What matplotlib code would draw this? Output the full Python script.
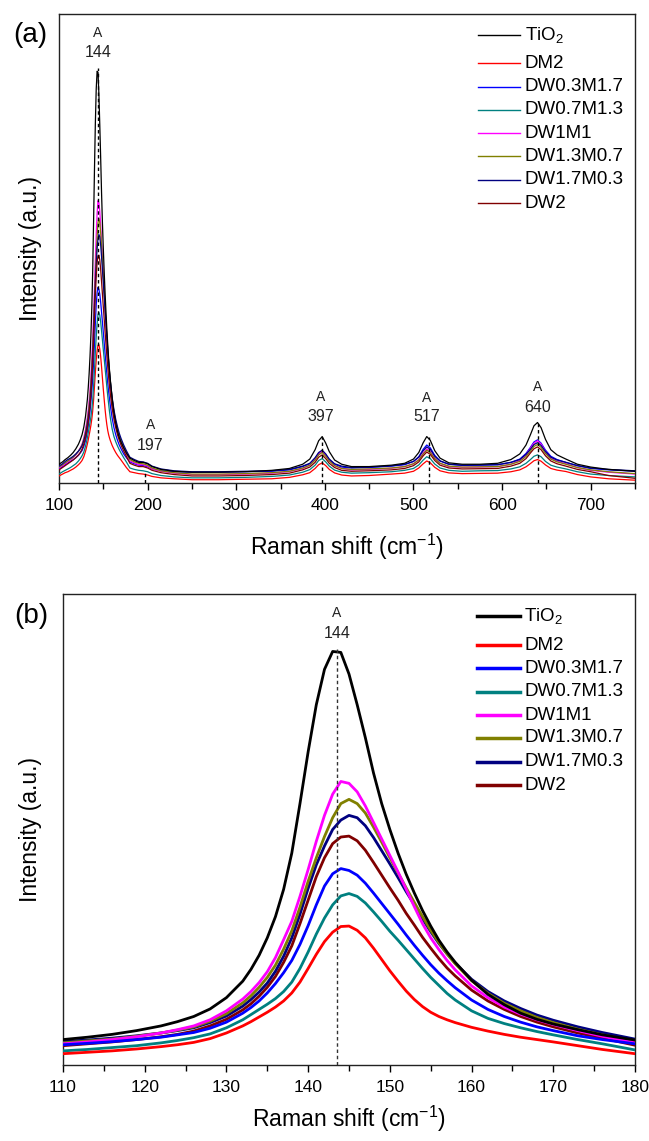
import numpy as np
import matplotlib
matplotlib.use('Agg')
import matplotlib.pyplot as plt
from matplotlib.lines import Line2D
from matplotlib.ticker import MultipleLocator, NullLocator

plt.rcParams['font.family'] = ['Liberation Sans', 'DejaVu Sans']
plt.rcParams['mathtext.fontset'] = 'custom'
plt.rcParams['mathtext.rm'] = 'Liberation Sans'
plt.rcParams['mathtext.it'] = 'Liberation Sans:italic'
plt.rcParams['mathtext.bf'] = 'Liberation Sans:bold'

# ---------------- data ----------------
labels = ['TiO$_2$', 'DM2', 'DW0.3M1.7', 'DW0.7M1.3', 'DW1M1', 'DW1.3M0.7', 'DW1.7M0.3', 'DW2']
colors = ['#000000', '#FF0000', '#0000FF', '#008080', '#FF00FF', '#808000', '#000080', '#800000']

# zoomed region (panel b), Raman shift in cm-1; intensities in % of the axis height
x_b = [110, 113, 116, 119, 122, 124, 126, 128, 130, 132, 133, 134, 135, 136, 137, 138, 139, 140, 141, 142,
       143, 144, 145, 146, 147, 148, 149, 150, 151, 152, 153, 154, 155, 156, 157, 158, 160, 162, 164, 166,
       168, 170, 173, 176, 180]

tio2_b = [5.4, 5.9, 6.5, 7.3, 8.3, 9.2, 10.3, 11.9, 14.3, 17.8, 20.3, 23.3, 27.0, 31.5, 37.3, 45.0, 55.5, 66.5,
          76.5, 84.0, 87.8, 87.6, 83.0, 76.5, 69.5, 62.0, 55.5, 50.0, 45.0, 40.5, 36.5, 32.8, 29.5, 26.5, 24.0,
          21.8, 18.0, 15.0, 12.8, 11.0, 9.7, 8.7, 7.5, 6.4, 5.3]
dm2_b = [2.4, 2.7, 3.0, 3.4, 3.9, 4.3, 4.8, 5.6, 6.8, 8.3, 9.2, 10.2, 11.2, 12.3, 13.6, 15.3, 17.6, 20.5,
         23.5, 26.2, 28.2, 29.4, 29.5, 28.6, 27.0, 24.8, 22.4, 20.0, 17.8, 15.7, 13.9, 12.4, 11.2, 10.3, 9.6,
         9.0, 8.0, 7.2, 6.5, 5.9, 5.4, 4.9, 4.1, 3.3, 2.4]
dw03_b = [4.3, 4.6, 4.95, 5.4, 5.9, 6.4, 6.9, 7.8, 9.1, 11.0, 12.2, 13.6, 15.3, 17.3, 19.6, 22.2, 25.6, 29.6,
          34.0, 38.0, 40.6, 41.7, 41.3, 40.3, 38.6, 36.5, 34.3, 32.1, 29.9, 27.6, 25.4, 23.3, 21.3, 19.5, 17.9,
          16.4, 13.8, 11.8, 10.3, 9.1, 8.1, 7.3, 6.2, 5.4, 4.5]
dw07_b = [3.0, 3.3, 3.7, 4.1, 4.7, 5.2, 5.8, 6.6, 7.9, 9.6, 10.7, 11.8, 12.9, 14.1, 15.6, 17.6, 20.5, 24.0,
          27.8, 31.2, 34.0, 35.9, 36.4, 35.8, 34.4, 32.5, 30.5, 28.4, 26.5, 24.5, 22.5, 20.5, 18.6, 16.9, 15.2,
          13.8, 11.5, 9.9, 8.8, 7.9, 7.1, 6.4, 5.4, 4.5, 3.2]
dw1_b = [4.5, 4.9, 5.4, 6.0, 6.8, 7.5, 8.3, 9.6, 11.5, 14.0, 15.6, 17.5, 19.8, 22.8, 26.6, 30.5, 35.8, 41.5,
         47.5, 53.0, 57.5, 60.2, 59.8, 58.0, 55.0, 51.5, 48.0, 44.5, 41.0, 37.3, 33.6, 30.0, 27.0, 24.5, 22.2,
         20.2, 16.8, 14.3, 12.3, 10.8, 9.6, 8.6, 7.3, 6.1, 4.7]
dw13_b = [4.7, 5.1, 5.5, 6.1, 6.8, 7.4, 8.1, 9.3, 10.9, 13.2, 14.7, 16.5, 18.6, 21.2, 24.6, 28.5, 33.5, 39.0,
          44.0, 48.5, 52.5, 55.5, 56.4, 55.5, 53.5, 50.5, 47.3, 44.0, 40.8, 37.6, 34.5, 31.5, 28.6, 26.0, 23.6,
          21.5, 17.9, 15.2, 13.1, 11.5, 10.1, 9.0, 7.6, 6.4, 5.0]
dw17_b = [5.0, 5.3, 5.7, 6.2, 6.8, 7.3, 7.9, 9.0, 10.4, 12.5, 13.9, 15.5, 17.4, 19.9, 23.1, 27.0, 32.0, 37.5,
          42.5, 46.5, 50.0, 52.0, 53.0, 52.5, 50.8, 48.3, 45.5, 42.7, 39.8, 36.8, 34.0, 31.0, 28.3, 25.8, 23.6,
          21.6, 18.2, 15.6, 13.6, 12.0, 10.6, 9.5, 8.1, 6.9, 5.5]
dw2_b = [4.1, 4.5, 4.9, 5.4, 6.0, 6.5, 7.2, 8.3, 9.7, 11.7, 13.0, 14.6, 16.5, 18.8, 21.8, 25.3, 30.0, 35.0,
         40.0, 44.0, 47.0, 48.4, 48.6, 47.6, 45.6, 43.0, 40.3, 37.6, 35.0, 32.2, 29.7, 27.1, 24.8, 22.6, 20.6,
         18.9, 15.9, 13.6, 11.8, 10.3, 9.1, 8.1, 6.8, 5.7, 4.2]

# full range (panel a): points below and above the zoomed region
x_a_low = [100, 104, 107]
x_a_high = [185, 190, 195, 200, 205, 215, 230, 250, 280, 310, 340, 360, 375, 383, 389, 393, 397, 401, 405,
            411, 419, 430, 450, 475, 490, 500, 506, 511, 515, 519, 524, 530, 540, 555, 575, 595, 610, 620,
            627, 632, 636, 640, 644, 649, 655, 662, 672, 685, 700, 720, 750]

tio2_a_low = [4.0, 4.5, 5.0]
tio2_a_high = [4.8, 4.4, 4.4, 4.1, 3.5, 2.9, 2.5, 2.3, 2.3, 2.4, 2.7, 3.1, 4.0, 5.1, 7.1, 9.0, 9.9, 8.5, 6.7,
               4.9, 4.0, 3.5, 3.5, 3.8, 4.2, 5.1, 6.5, 8.6, 9.9, 9.1, 6.9, 5.3, 4.3, 4.0, 4.0, 4.2, 5.0, 6.2,
               8.1, 10.3, 12.2, 12.9, 11.8, 9.3, 7.1, 6.0, 5.1, 4.0, 3.4, 2.9, 2.5]
dm2_a_low = [1.5, 1.9, 2.2]
dm2_a_high = [2.2, 2.0, 1.9, 1.7, 1.4, 1.1, 0.9, 0.7, 0.7, 0.8, 0.9, 1.2, 1.75, 2.2, 3.1, 3.9, 4.3, 3.7, 2.9,
              2.15, 1.7, 1.5, 1.6, 1.9, 2.1, 2.5, 3.2, 4.1, 4.7, 4.3, 3.35, 2.6, 2.15, 2.0, 2.05, 2.1, 2.4, 2.8,
              3.45, 4.15, 4.75, 5.0, 4.65, 3.85, 3.1, 2.75, 2.45, 1.8, 1.3, 0.9, 0.6]
dw03_a_low = [3.0, 3.5, 3.9]
dw03_a_high = [4.1, 3.8, 3.7, 3.5, 3.0, 2.6, 2.4, 2.3, 2.3, 2.4, 2.5, 2.8, 3.5, 4.1, 5.2, 6.3, 6.8, 6.0, 5.0,
               4.0, 3.4, 3.2, 3.3, 3.6, 3.9, 4.6, 5.6, 7.2, 8.1, 7.5, 5.9, 4.7, 4.0, 3.75, 3.8, 3.9, 4.4, 5.1,
               6.3, 7.6, 8.75, 9.2, 8.5, 7.0, 5.7, 5.0, 4.4, 3.7, 3.1, 2.8, 2.5]
dw07_a_low = [1.9, 2.4, 2.7]
dw07_a_high = [2.9, 2.7, 2.6, 2.4, 2.0, 1.6, 1.3, 1.1, 1.1, 1.2, 1.4, 1.7, 2.3, 2.85, 3.8, 4.8, 5.2, 4.5, 3.6,
               2.75, 2.3, 2.1, 2.2, 2.4, 2.7, 3.1, 3.85, 4.9, 5.6, 5.2, 4.05, 3.2, 2.7, 2.5, 2.6, 2.65, 3.0, 3.45,
               4.2, 5.0, 5.7, 6.0, 5.6, 4.6, 3.8, 3.4, 3.0, 2.4, 1.9, 1.6, 1.3]
dw1_a_low = [3.2, 3.7, 4.1]
dw1_a_high = [4.3, 3.9, 3.9, 3.6, 3.0, 2.5, 2.1, 1.8, 1.8, 1.9, 2.1, 2.45, 3.1, 3.8, 5.0, 6.2, 6.8, 5.9, 4.8,
              3.7, 3.1, 2.8, 2.9, 3.15, 3.5, 4.1, 5.0, 6.4, 7.3, 6.7, 5.3, 4.2, 3.5, 3.35, 3.4, 3.5, 4.0, 4.8,
              6.0, 7.4, 8.5, 9.0, 8.3, 6.7, 5.35, 4.65, 4.1, 3.3, 2.7, 2.3, 1.9]
dw13_a_low = [3.4, 3.9, 4.3]
dw13_a_high = [4.5, 4.2, 4.1, 3.8, 3.2, 2.6, 2.2, 1.9, 1.9, 2.0, 2.2, 2.5, 3.2, 3.8, 4.9, 6.0, 6.5, 5.7, 4.7,
               3.7, 3.1, 2.9, 3.0, 3.2, 3.5, 4.1, 4.9, 6.2, 7.0, 6.5, 5.2, 4.2, 3.6, 3.4, 3.45, 3.5, 4.0, 4.6,
               5.65, 6.8, 7.8, 8.2, 7.6, 6.3, 5.1, 4.5, 4.0, 3.3, 2.8, 2.4, 2.0]
dw17_a_low = [3.6, 4.1, 4.6]
dw17_a_high = [5.0, 4.6, 4.5, 4.2, 3.6, 3.0, 2.6, 2.4, 2.4, 2.5, 2.6, 2.9, 3.6, 4.2, 5.4, 6.5, 7.0, 6.2, 5.1,
               4.1, 3.6, 3.3, 3.4, 3.65, 4.0, 4.6, 5.5, 6.9, 7.7, 7.2, 5.7, 4.7, 4.0, 3.8, 3.85, 3.9, 4.4, 5.0,
               6.1, 7.2, 8.2, 8.6, 8.0, 6.7, 5.5, 4.9, 4.4, 3.7, 3.2, 2.9, 2.6]
dw2_a_low = [2.8, 3.3, 3.7]
dw2_a_high = [3.8, 3.5, 3.5, 3.2, 2.7, 2.2, 1.8, 1.5, 1.5, 1.6, 1.8, 2.1, 2.8, 3.4, 4.4, 5.5, 6.0, 5.2, 4.2,
              3.3, 2.7, 2.5, 2.6, 2.8, 3.1, 3.7, 4.5, 5.8, 6.6, 6.1, 4.8, 3.8, 3.2, 3.0, 3.05, 3.1, 3.6, 4.2,
              5.2, 6.4, 7.3, 7.7, 7.1, 5.8, 4.7, 4.1, 3.6, 2.9, 2.4, 1.6, 1.0]

peaks_a = [144, 197, 397, 517, 640]
peak_labels_a = ['144', '197', '397', '517', '640']
peak_b = 143.5
peak_label_b = '144'

series_b = [tio2_b, dm2_b, dw03_b, dw07_b, dw1_b, dw13_b, dw17_b, dw2_b]
series_a_low = [tio2_a_low, dm2_a_low, dw03_a_low, dw07_a_low, dw1_a_low, dw13_a_low, dw17_a_low, dw2_a_low]
series_a_high = [tio2_a_high, dm2_a_high, dw03_a_high, dw07_a_high, dw1_a_high, dw13_a_high, dw17_a_high, dw2_a_high]

x_a = np.array(x_a_low + x_b + x_a_high, dtype=float)
series_a = [np.array(lo + mid + hi) for lo, mid, hi in zip(series_a_low, series_b, series_a_high)]

# ---------------- figure ----------------
W, H = 649, 1141
fig = plt.figure(figsize=(W / 100, H / 100), dpi=100)


def px_axes(l, t, r, b):
    return fig.add_axes([l / W, 1 - b / H, (r - l) / W, (b - t) / H])


axA = px_axes(59, 14, 635, 483)
axB = px_axes(63, 594, 635, 1065)

for i, (ys, c) in enumerate(zip(series_a, colors)):
    axA.plot(x_a, ys, color=c, lw=0.9, zorder=9 if i == 0 else 5 + i * 0.1)
for i, (ys, c) in enumerate(zip(series_b, colors)):
    axB.plot(x_b, ys, color=c, lw=2.0, zorder=5 + (8 - i) * 0.1,
             solid_joinstyle='round', solid_capstyle='round')

for ax, xl, xr in [(axA, 100, 750), (axB, 110, 180)]:
    ax.set_xlim(xl, xr)
    ax.set_ylim(0, 100)
    ax.yaxis.set_major_locator(NullLocator())
    for sp in ax.spines.values():
        sp.set_linewidth(1.0)
        sp.set_color('#222222')
    ax.tick_params(axis='x', which='major', direction='out', length=5, width=1.0,
                   labelsize=12.5, pad=6, top=False)
    ax.tick_params(axis='x', which='minor', direction='out', length=4, width=1.0, top=False)

axA.xaxis.set_major_locator(MultipleLocator(100))
axA.xaxis.set_minor_locator(MultipleLocator(50))
axB.xaxis.set_major_locator(MultipleLocator(10))
axB.xaxis.set_minor_locator(MultipleLocator(5))

for ax, h, w, ylx, xly in [(axA, 469, 576, -29, -64), (axB, 471, 572, -32, -54)]:
    ax.set_xlabel('Raman shift (cm$^{-1}$)', fontsize=16.5)
    ax.xaxis.label.set_va('center')
    ax.xaxis.set_label_coords(0.5, xly / h)
    ax.set_ylabel('Intensity (a.u.)', fontsize=16.5)
    ax.yaxis.label.set_va('center')
    ax.yaxis.set_label_coords(ylx / w, 0.5)

fig.text(30 / W, 1 - 35 / H, '(a)', fontsize=20, ha='center', va='center')
fig.text(31 / W, 1 - 616 / H, '(b)', fontsize=20, ha='center', va='center')

# peak markers, panel a
label_x = [144, 203, 395, 515, 640]
label_A_y = [95.9, 12.4, 18.3, 18.1, 20.5]
label_n_y = [91.7, 8.1, 14.1, 14.1, 16.2]
line_top = [88.4, 2.6, 9.9, 9.9, 12.9]
for p, lab, lx, ay, ny, lt in zip(peaks_a, peak_labels_a, label_x, label_A_y, label_n_y, line_top):
    axA.plot([p, p], [0, lt], color='black', lw=1.0, ls=(0, (2.5, 2)), zorder=20)
    axA.text(lx, ay, 'A', fontsize=10, ha='center', va='center', color='#222222')
    axA.text(lx, ny, lab, fontsize=11.5, ha='center', va='center', color='#222222')

axB.plot([peak_b, peak_b], [0, 88.5], color='#333333', lw=1.0, ls=(0, (2.5, 2)), zorder=20)
axB.text(peak_b, 96.0, 'A', fontsize=10, ha='center', va='center', color='#222222')
axB.text(peak_b, 91.7, peak_label_b, fontsize=11.5, ha='center', va='center', color='#222222')


# legends (drawn in figure pixel positions)
def draw_legend(x0, x1, xt, rows, lw):
    for lab, c, y in zip(labels, colors, rows):
        yy = 1 - y / H
        fig.add_artist(Line2D([x0 / W, x1 / W], [yy, yy], color=c, lw=lw, transform=fig.transFigure))
        fig.text(xt / W, yy, lab, fontsize=13.5, ha='left', va='center')


rows_a = [35, 63, 86.5, 110, 133, 156.5, 180, 203]
rows_b = [616, 645, 668.3, 691.7, 715, 737.5, 761.5, 785]
draw_legend(478, 520, 525, rows_a, 1.0)
draw_legend(477, 520, 524, rows_b, 2.5)

fig.savefig('out.png', dpi=100)
